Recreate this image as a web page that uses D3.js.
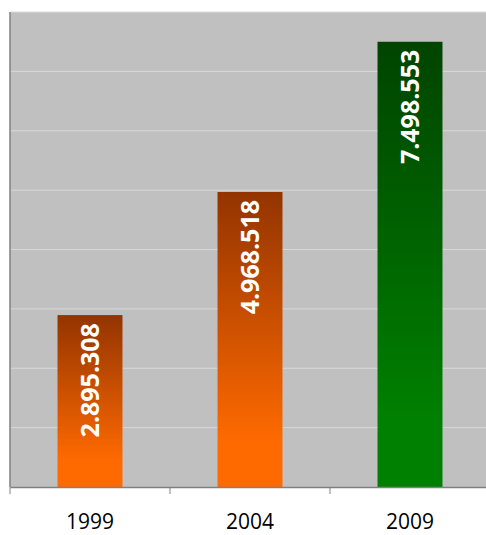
<!DOCTYPE html>
<html>
<head>
<meta charset="utf-8">
<script src="https://cdn.jsdelivr.net/npm/d3@7"></script>
<style>
  body { margin: 0; background: #fff; }
</style>
</head>
<body>
<div class="chart"></div>
<script>
var years = ["1999", "2004", "2009"];
var visitors = [2895308, 4968518, 7498553];
var yTicks = [0, 1000000, 2000000, 3000000, 4000000, 5000000, 6000000, 7000000, 8000000];

var svgWidth = 486;
var svgHeight = 535;
var margin = { top: 12, right: -4, bottom: 48, left: 10 };
var width = svgWidth - margin.left - margin.right;
var height = svgHeight - margin.top - margin.bottom;

var svg = d3.select(".chart")
  .append("svg")
  .attr("width", svgWidth)
  .attr("height", svgHeight);

// gradients for the bars
var defs = svg.append("defs");
function addGradient(id, top, bottom) {
  var g = defs.append("linearGradient")
    .attr("id", id)
    .attr("x1", 0).attr("y1", 0).attr("x2", 0).attr("y2", 1);
  g.append("stop").attr("offset", "0%").attr("stop-color", top);
  g.append("stop").attr("offset", "85%").attr("stop-color", bottom);
  g.append("stop").attr("offset", "100%").attr("stop-color", bottom);
}
addGradient("orangeGrad", "#933400", "#ff6a00");
addGradient("greenGrad", "#004400", "#008000");

var chart = svg.append("g")
  .attr("transform", "translate(" + margin.left + "," + margin.top + ")");

var x = d3.scaleBand()
  .domain(years)
  .range([0, width])
  .paddingInner(0.594)
  .paddingOuter(0.297);

var y = d3.scaleLinear()
  .domain([0, 8000000])
  .range([height, 0]);

// plot background
chart.append("rect")
  .attr("width", width)
  .attr("height", height)
  .attr("fill", "#c0c0c0");

// gridlines
chart.selectAll(".grid")
  .data(yTicks.slice(1))
  .enter().append("line")
    .attr("x1", 0)
    .attr("x2", width)
    .attr("y1", function(d) { return y(d); })
    .attr("y2", function(d) { return y(d); })
    .attr("stroke", "#d9d9d9")
    .attr("stroke-width", 1);

// bars
chart.selectAll(".bar")
  .data(visitors)
  .enter().append("rect")
    .attr("x", function(d, i) { return x(years[i]); })
    .attr("y", function(d) { return y(d); })
    .attr("width", x.bandwidth())
    .attr("height", function(d) { return height - y(d); })
    .attr("fill", function(d, i) { return i === 2 ? "url(#greenGrad)" : "url(#orangeGrad)"; });

// value labels
var fmt = function(v) { return d3.format(",")(v).replace(/,/g, "."); };
chart.selectAll(".label")
  .data(visitors)
  .enter().append("text")
    .attr("transform", function(d, i) {
      return "translate(" + (x(years[i]) + x.bandwidth() / 2 + 9) + "," + (y(d) + 8) + ") rotate(-90)";
    })
    .attr("text-anchor", "end")
    .attr("fill", "#ffffff")
    .attr("font-family", "Open Sans, sans-serif")
    .attr("font-weight", "bold")
    .attr("font-size", "25px")
    .text(fmt);

// left axis line
chart.append("line")
  .attr("x1", 0).attr("x2", 0)
  .attr("y1", 0).attr("y2", height)
  .attr("stroke", "#808080")
  .attr("stroke-width", 1.5);

// bottom axis
var xAxis = d3.axisBottom(x).tickSize(0).tickPadding(27);
var axisG = chart.append("g")
  .attr("transform", "translate(0," + height + ")")
  .call(xAxis);
axisG.select(".domain").attr("stroke", "#808080").attr("stroke-width", 1.5);
axisG.selectAll("text")
  .attr("font-family", "Open Sans, sans-serif")
  .attr("font-size", "21px")
  .attr("fill", "#000");

// category boundary ticks
var bounds = [0, 1, 2, 3];
axisG.selectAll(".bound")
  .data(bounds)
  .enter().append("line")
    .attr("x1", function(d) { return d * x.step(); })
    .attr("x2", function(d) { return d * x.step(); })
    .attr("y1", 0)
    .attr("y2", 7)
    .attr("stroke", "#808080");
</script>
</body>
</html>
